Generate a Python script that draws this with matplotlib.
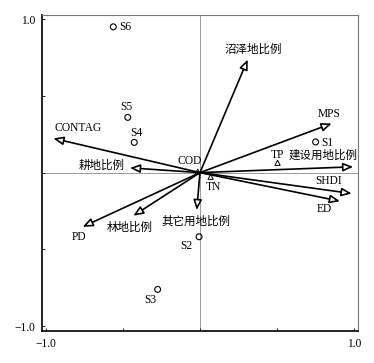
import matplotlib
matplotlib.use("Agg")
import matplotlib.pyplot as plt

# ---- data ----
arrow_names = ["CONTAG", "耕地比例", "沼泽地比例", "MPS", "建设用地比例",
               "SHDI", "ED", "其它用地比例", "PD", "林地比例"]
arrow_x = [-0.952, -0.455, 0.310, 0.855, 0.995, 0.985, 0.909, -0.021, -0.762, -0.433]
arrow_y = [0.223, 0.031, 0.737, 0.320, 0.038, -0.136, -0.186, -0.244, -0.353, -0.281]

sample_names = ["S1", "S2", "S3", "S4", "S5", "S6"]
sample_x = [0.751, -0.006, -0.275, -0.427, -0.469, -0.563]
sample_y = [0.200, -0.418, -0.761, 0.197, 0.360, 0.950]

species_names = ["TP", "TN", "COD"]
species_x = [0.504, 0.069, -0.015]
species_y = [0.064, -0.027, 0.005]

tick_vals = [-1.0, -0.5, 0.0, 0.5, 1.0]
tick_labels = ["\u22121.0", "", "", "", "1.0"]

# ---- label layout (data coords) ----
arrow_lab = {
    "CONTAG": (-0.794, 0.293), "耕地比例": (-0.64, 0.045), "沼泽地比例": (0.349, 0.803),
    "MPS": (0.84, 0.381), "建设用地比例": (0.80, 0.108), "SHDI": (0.838, -0.055),
    "ED": (0.807, -0.24), "其它用地比例": (-0.027, -0.32), "PD": (-0.788, -0.418),
    "林地比例": (-0.455, -0.36),
}
sample_lab = {
    "S1": (0.829, 0.195), "S2": (-0.09, -0.48), "S3": (-0.32, -0.83),
    "S4": (-0.416, 0.26), "S5": (-0.476, 0.425), "S6": (-0.487, 0.95),
}
species_lab = {"TP": (0.502, 0.115), "TN": (0.086, -0.092), "COD": (-0.07, 0.077)}

FAM = ["Liberation Serif", "Noto Sans CJK SC", "DejaVu Sans"]
FS = 8.3

fig = plt.figure(figsize=(3.74, 3.63), dpi=100)
ax = fig.add_axes([42 / 374, 32 / 363, 315.5 / 374, 316.3 / 363])
ax.set_xlim(-1.026, 1.023)
ax.set_ylim(-1.032, 1.029)

ax.axhline(0, color="#8a8a8a", lw=0.6, zorder=1)
ax.axvline(0, color="#8a8a8a", lw=0.6, zorder=1)

for name, x, y in zip(arrow_names, arrow_x, arrow_y):
    ax.annotate("", xy=(x, y), xytext=(0, 0),
                arrowprops=dict(arrowstyle="-|>,head_length=0.6,head_width=0.25",
                                fc="white", ec="black", lw=1.2,
                                mutation_scale=10, shrinkA=0, shrinkB=0),
                zorder=3)
    lx, ly = arrow_lab[name]
    ax.text(lx, ly, name, ha="center", va="center", fontsize=FS, family=FAM, zorder=4)

ax.scatter(sample_x, sample_y, s=18, marker="o", facecolors="none",
           edgecolors="black", linewidths=0.8, zorder=4)
for name in sample_names:
    lx, ly = sample_lab[name]
    ax.text(lx, ly, name, ha="center", va="center", fontsize=FS, family=FAM, zorder=4)

ax.scatter(species_x, species_y, s=14, marker="^", facecolors="none",
           edgecolors="black", linewidths=0.7, zorder=4)
for name in species_names:
    lx, ly = species_lab[name]
    ax.text(lx, ly, name, ha="center", va="center", fontsize=FS, family=FAM, zorder=4)

ax.set_xticks(tick_vals)
ax.set_xticklabels(tick_labels)
ax.set_yticks(tick_vals)
ax.set_yticklabels(tick_labels)
ax.tick_params(direction="in", length=2.5, width=0.6, labelsize=FS, pad=5)
for lab in ax.get_xticklabels() + ax.get_yticklabels():
    lab.set_family(FAM)

ax.spines["left"].set_linewidth(1.2)
ax.spines["bottom"].set_linewidth(1.2)
ax.spines["top"].set_color("#777777")
ax.spines["right"].set_color("#777777")
ax.spines["top"].set_linewidth(0.8)
ax.spines["right"].set_linewidth(0.8)

fig.savefig("out.png", dpi=100)
